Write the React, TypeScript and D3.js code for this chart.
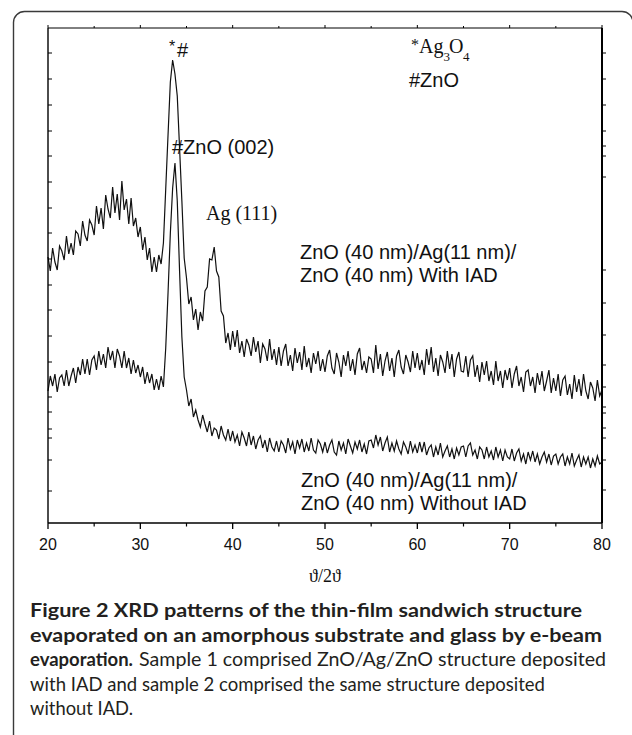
import React from 'react';
import * as d3 from 'd3';

// sampled every 0.25 deg starting at 20 deg 2theta (arbitrary intensity units)
const angleStart = 20;
const angleStep = 0.25;

// ZnO (40 nm)/Ag(11 nm)/ZnO (40 nm) With IAD
const withIAD = [
  266, 252, 275, 261, 253, 277, 272, 263, 287, 269, 280, 268, 292, 289, 277, 302, 288, 282, 303, 298,
  288, 317, 299, 315, 294, 328, 314, 305, 336, 310, 329, 303, 342, 313, 324, 299, 325, 297, 305, 286,
  296, 273, 286, 263, 275, 251, 266, 251, 268, 259, 280, 334, 388, 441, 463, 449, 427, 375, 322, 265,
  245, 219, 226, 203, 214, 193, 211, 202, 232, 236, 264, 263, 276, 252, 246, 212, 207, 180, 190, 173,
  192, 176, 193, 170, 182, 166, 184, 178, 167, 186, 171, 182, 160, 179, 174, 162, 184, 163, 174, 158,
  176, 157, 172, 179, 157, 168, 152, 175, 160, 171, 153, 177, 156, 165, 150, 170, 159, 172, 152, 164,
  151, 167, 173, 155, 149, 170, 161, 146, 168, 157, 172, 152, 164, 148, 169, 175, 153, 162, 150, 166,
  164, 150, 178, 154, 169, 147, 162, 171, 152, 165, 146, 167, 173, 156, 149, 168, 161, 151, 172, 155,
  170, 153, 163, 148, 174, 158, 176, 151, 165, 147, 168, 161, 150, 172, 154, 169, 146, 164, 171, 152,
  151, 167, 146, 163, 167, 146, 158, 141, 161, 148, 162, 142, 152, 138, 162, 142, 152, 135, 153, 143,
  155, 135, 149, 157, 137, 146, 131, 151, 153, 137, 146, 130, 150, 138, 152, 132, 142, 153, 130, 145,
  132, 149, 127, 143, 147, 128, 139, 124, 148, 131, 144, 127, 149, 132, 124, 141, 135, 122, 143, 127,
  133,
];

// ZnO (40 nm)/Ag(11 nm)/ZnO (40 nm) Without IAD
const withoutIAD = [
  132, 147, 137, 149, 131, 145, 148, 137, 153, 137, 147, 155, 140, 156, 148, 164, 149, 164, 148, 163,
  167, 153, 172, 158, 169, 155, 176, 163, 172, 155, 174, 167, 155, 172, 155, 165, 149, 163, 150, 158,
  146, 156, 139, 151, 140, 149, 133, 144, 133, 147, 136, 175, 230, 290, 335, 360, 322, 252, 186, 146,
  133, 117, 124, 106, 113, 103, 96, 108, 99, 91, 102, 87, 95, 93, 84, 97, 88, 83, 94, 82,
  92, 81, 88, 77, 91, 85, 77, 91, 78, 87, 74, 83, 87, 75, 83, 71, 85, 76, 72, 82,
  71, 82, 78, 70, 85, 74, 81, 69, 83, 75, 84, 71, 80, 72, 85, 73, 70, 83, 79, 71,
  81, 70, 78, 83, 71, 68, 82, 73, 80, 69, 84, 77, 70, 81, 74, 83, 71, 79, 69, 82,
  83, 75, 88, 78, 86, 72, 80, 86, 71, 80, 72, 82, 74, 69, 81, 76, 69, 82, 71, 78,
  70, 81, 71, 81, 68, 75, 78, 66, 76, 68, 80, 66, 72, 77, 66, 74, 64, 75, 68, 76,
  77, 66, 77, 80, 68, 73, 64, 76, 73, 64, 76, 66, 72, 63, 76, 66, 73, 62, 73, 66,
  64, 74, 62, 70, 74, 62, 69, 59, 71, 63, 72, 61, 69, 59, 66, 71, 61, 69, 58, 67,
  69, 59, 66, 69, 57, 66, 59, 70, 57, 63, 68, 56, 66, 59, 66, 55, 64, 57, 67, 59,
  61,
];

const xMajorTicks = [20, 30, 40, 50, 60, 70, 80];
const xMinorTicks = [25, 35, 45, 55, 65, 75];
const leftTicks = [470, 444, 418, 392, 367, 341, 315, 290, 264, 238, 213, 187, 161, 126, 111, 94, 85, 63, 32];
const rightTicks = [470, 444, 418, 392, 377, 367, 346, 253, 220, 188, 158, 136, 116, 110, 95, 85, 63, 33];

const captionFont = "Lato, 'Noto Sans', sans-serif";
const serif = "'Liberation Serif', 'DejaVu Serif', serif";
const sans = "'Liberation Sans', Arial, sans-serif";

export default function App() {
  const plot = { left: 48, right: 602, top: 28, bottom: 523 };
  const x = d3.scaleLinear().domain([20, 80]).range([plot.left, plot.right]);
  const y = d3.scaleLinear().domain([0, 495]).range([plot.bottom, plot.top]);

  const line = d3
    .line<number>()
    .x((_, i) => x(angleStart + i * angleStep))
    .y((d) => y(d));

  return (
    <svg
      width={632}
      height={735}
      style={{ position: 'absolute', left: 0, top: 0, background: '#fff' }}
    >
      {/* card frame */}
      <rect x={13.5} y={11.5} width={619.5} height={740} rx={11} fill="none" stroke="#3a3a3a" strokeWidth={1.4} />

      {/* traces */}
      <path d={line(withIAD) || ''} fill="none" stroke="#111" strokeWidth={1.2} strokeLinejoin="miter" />
      <path d={line(withoutIAD) || ''} fill="none" stroke="#111" strokeWidth={1.2} strokeLinejoin="miter" />

      {/* plot box */}
      <line x1={plot.left} x2={plot.right} y1={plot.top} y2={plot.top} stroke="#000" strokeWidth={1} />
      <line x1={plot.left} x2={plot.right} y1={plot.bottom} y2={plot.bottom} stroke="#000" strokeWidth={1.5} />
      <line x1={plot.left} x2={plot.left} y1={plot.top} y2={plot.bottom} stroke="#000" strokeWidth={1.4} />
      <line x1={plot.right} x2={plot.right} y1={plot.top} y2={plot.bottom} stroke="#000" strokeWidth={2} />

      {/* x ticks */}
      {xMajorTicks.map((t) => (
        <g key={'M' + t}>
          <line x1={x(t)} x2={x(t)} y1={plot.bottom} y2={plot.bottom + 6} stroke="#000" strokeWidth={1.3} />
          <line x1={x(t)} x2={x(t)} y1={plot.top} y2={plot.top - 3} stroke="#000" strokeWidth={1} />
          <text x={x(t)} y={550} textAnchor="middle" fontFamily={sans} fontSize={16} fill="#111">
            {t}
          </text>
        </g>
      ))}
      {xMinorTicks.map((t) => (
        <g key={'m' + t}>
          <line x1={x(t)} x2={x(t)} y1={plot.bottom} y2={plot.bottom + 3.5} stroke="#000" strokeWidth={1.2} />
          <line x1={x(t)} x2={x(t)} y1={plot.top} y2={plot.top - 2} stroke="#000" strokeWidth={1} />
        </g>
      ))}

      {/* y ticks (unlabelled) */}
      {leftTicks.map((t) => (
        <line key={'l' + t} x1={plot.left} x2={plot.left + 4} y1={y(t)} y2={y(t)} stroke="#000" strokeWidth={1} />
      ))}
      {rightTicks.map((t) => (
        <line key={'r' + t} x1={plot.right} x2={plot.right + 4} y1={y(t)} y2={y(t)} stroke="#000" strokeWidth={1} />
      ))}

      {/* axis title */}
      <text x={(plot.left + plot.right) / 2} y={582} textAnchor="middle" fontFamily={serif} fontSize={18} fill="#111">
        ϑ/2ϑ
      </text>

      {/* peak annotations */}
      <text x={169} y={52} fontFamily={sans} fontSize={16} fill="#111">*</text>
      <text x={177} y={57} fontFamily={sans} fontSize={20} fill="#111">#</text>
      <text x={172} y={154} fontFamily={sans} fontSize={20} fill="#111">#ZnO (002)</text>
      <text x={206} y={220} fontFamily={serif} fontSize={20} fill="#111">Ag (111)</text>

      {/* phase legend */}
      <text x={411} y={50} fontFamily={serif} fontSize={16} fill="#111">*</text>
      <text x={419} y={53} fontFamily={serif} fontSize={20} fill="#111">Ag</text>
      <text x={443.5} y={61} fontFamily={serif} fontSize={13} fill="#111">3</text>
      <text x={449} y={53} fontFamily={serif} fontSize={20} fill="#111">O</text>
      <text x={463} y={61} fontFamily={serif} fontSize={13} fill="#111">4</text>
      <text x={409} y={87} fontFamily={sans} fontSize={20} fill="#111">#ZnO</text>

      {/* sample labels */}
      <text x={300} y={259} fontFamily={sans} fontSize={20} fill="#111">ZnO (40 nm)/Ag(11 nm)/</text>
      <text x={300} y={282} fontFamily={sans} fontSize={20} fill="#111">ZnO (40 nm) With IAD</text>
      <text x={301} y={487} fontFamily={sans} fontSize={20} fill="#111">ZnO (40 nm)/Ag(11 nm)/</text>
      <text x={301} y={510} fontFamily={sans} fontSize={20} fill="#111">ZnO (40 nm) Without IAD</text>

      {/* caption */}
      <g fontFamily={captionFont} fontSize={19} fill="#231f20">
        <text x={30} y={617} fontWeight="bold" textLength={552} lengthAdjust="spacingAndGlyphs">
          Figure 2 XRD patterns of the thin-film sandwich structure
        </text>
        <text x={30} y={641.5} fontWeight="bold" textLength={572} lengthAdjust="spacingAndGlyphs">
          evaporated on an amorphous substrate and glass by e-beam
        </text>
        <text x={30} y={666} fontWeight="bold" textLength={103} lengthAdjust="spacingAndGlyphs">
          evaporation.
        </text>
        <text x={139} y={666} textLength={467} lengthAdjust="spacingAndGlyphs">
          Sample 1 comprised ZnO/Ag/ZnO structure deposited
        </text>
        <text x={30} y={690.5} textLength={515} lengthAdjust="spacingAndGlyphs">
          with IAD and sample 2 comprised the same structure deposited
        </text>
        <text x={30} y={715} textLength={103} lengthAdjust="spacingAndGlyphs">
          without IAD.
        </text>
      </g>
    </svg>
  );
}
